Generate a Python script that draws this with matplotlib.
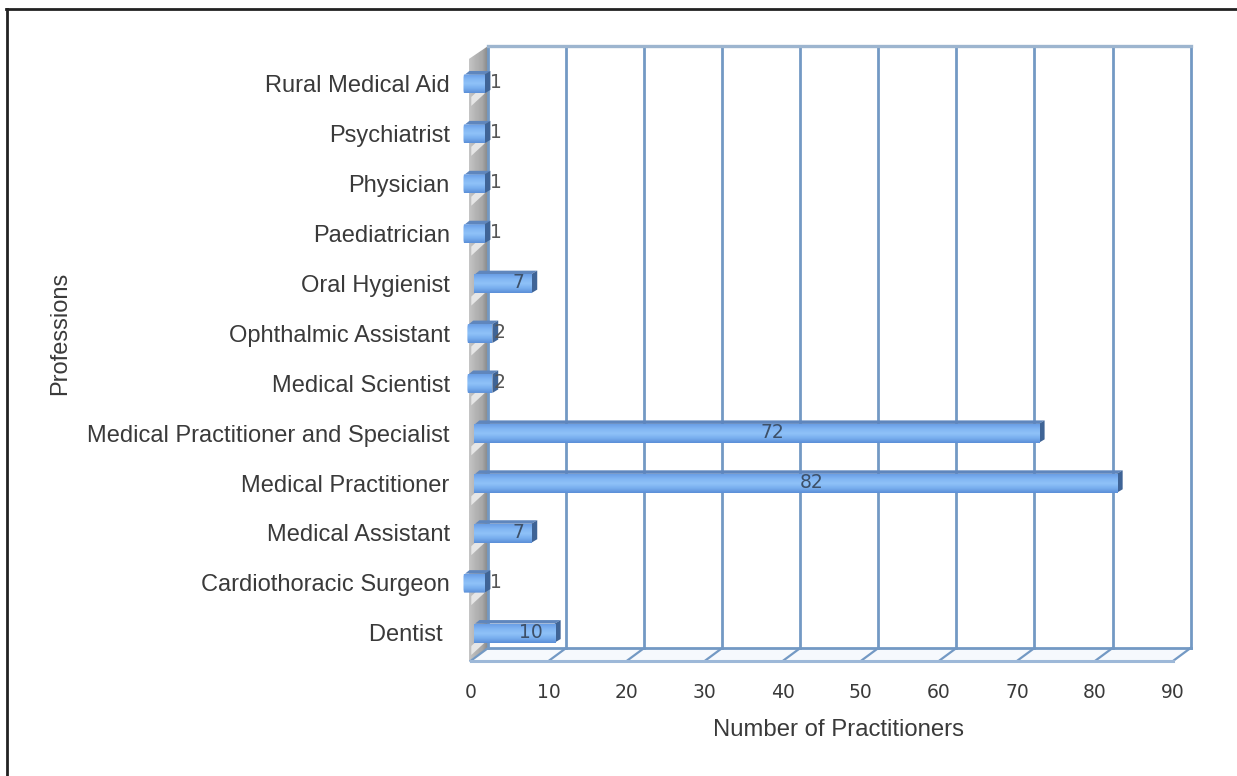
import numpy as np
import matplotlib
matplotlib.use('Agg')
import matplotlib.pyplot as plt
from matplotlib.patches import Polygon, FancyBboxPatch
from matplotlib.lines import Line2D
from matplotlib.colors import LinearSegmentedColormap
from matplotlib.transforms import ScaledTranslation

plt.rcParams['font.family'] = ['Liberation Sans', 'DejaVu Sans']

professions = ['Dentist ', 'Cardiothoracic Surgeon', 'Medical Assistant', 'Medical Practitioner',
               'Medical Practitioner and Specialist', 'Medical Scientist', 'Ophthalmic Assistant',
               'Oral Hygienist', 'Paediatrician', 'Physician', 'Psychiatrist', 'Rural Medical Aid']
counts = [10, 1, 7, 82, 72, 2, 2, 7, 1, 1, 1, 1]
xticks = [0, 10, 20, 30, 40, 50, 60, 70, 80, 90]

W, H = 1237, 776
GRID = '#7399c4'
TXT = '#3a3a3a'
DX = 2.25   # depth of the 3d box in data units
DY = 0.26

face_cm = LinearSegmentedColormap.from_list('face', ['#6a9fe6', '#82b6f3', '#8fc2f8', '#78aeee', '#5c90d8'])
wall_cm = LinearSegmentedColormap.from_list('wall', ['#c4c4c4', '#b4b4b4', '#a8a8a8', '#858585'])


def draw_bar(ax, y, v):
    # the tiny bars stick out to the left of the wall in the original
    x0 = {1: -0.9, 2: -0.4}.get(v, 0.4)
    x1 = v + 0.8
    h = 0.38
    top = y + 0.13
    bot = top - h
    cw, ch = 0.75, 0.07
    grad = np.linspace(0, 1, 32).reshape(-1, 1)
    ax.add_patch(Polygon([(x0 + 0.2, top), (x0 + cw, top + ch), (x1 + cw, top + ch), (x1, top)],
                         fc='#5f86bd', ec='none', zorder=5, clip_on=False))
    ax.add_patch(Polygon([(x1, bot), (x1 + cw, bot + ch), (x1 + cw, top + ch), (x1, top)],
                         fc='#3f6496', ec='none', zorder=5, clip_on=False))
    im = ax.imshow(grad, extent=[x0, x1, bot, top], cmap=face_cm, aspect='auto', origin='upper', zorder=5)
    im.set_clip_box(ax.figure.bbox)
    if v <= 2:
        clip = FancyBboxPatch((x0, bot), x1 - x0 + 1, h, boxstyle='round,pad=0,rounding_size=0.1',
                              mutation_aspect=1.0, transform=ax.transData, fc='none', ec='none', clip_on=False)
        ax.add_patch(clip)
        im.set_clip_path(clip)
        im.set_clip_box(ax.figure.bbox)
    col = '#555555' if v <= 2 else '#3d5068'
    ax.text(v / 2 + 2.7, y - 0.04, str(v), ha='center', va='center', fontsize=13.5, color=col, zorder=6,
            family='DejaVu Sans')


fig = plt.figure(figsize=(W / 100, H / 100), dpi=100, facecolor='white')
ax = fig.add_axes([470.5 / W, 1 - 661 / H, 702.5 / W, 602 / H])
ax.set_facecolor('none')
ax.set_xlim(0, 90)
ax.set_ylim(-0.62, 11.44)
ymin, ymax = ax.get_ylim()
for s in ax.spines.values():
    s.set_visible(False)

# left wall
ax.imshow(np.linspace(0, 1, 16).reshape(1, -1), extent=[-0.2, DX, ymin, ymax + DY], cmap=wall_cm,
          aspect='auto', zorder=1, clip_on=False)
ax.add_patch(Polygon([(-0.21, ymax), (DX, ymax + DY), (-0.21, ymax + DY + 0.1)], fc='white', ec='none',
                     zorder=1.5, clip_on=False))
ax.add_patch(Polygon([(-0.21, ymin), (DX, ymin + DY), (DX, ymin - 0.1), (-0.21, ymin - 0.1)], fc='white', ec='none',
                     zorder=1.5, clip_on=False))
for i in range(len(counts)):
    ax.add_patch(Polygon([(0.1, i - 0.5), (DX - 0.35, i - 0.24), (DX - 0.35, i - 0.06), (0.1, i - 0.32)],
                         fc='#e6e6e6', ec='none', zorder=2, clip_on=False))

# back wall grid, floor and tick marks
ax.add_patch(Polygon([(0, ymin), (DX, ymin + DY), (90 + DX, ymin + DY), (90, ymin)], fc='#f6f9fd', ec='none', zorder=2,
                     clip_on=False))
for t in xticks:
    ax.plot([t + DX, t + DX], [ymin + DY, ymax + DY], color=GRID, lw=2.0, zorder=3, clip_on=False)
    ax.plot([t, t + DX], [ymin, ymin + DY], color=GRID, lw=1.6, zorder=3, clip_on=False)
ax.plot([DX, 90 + DX], [ymax + DY, ymax + DY], color='#9db5cf', lw=2.4, zorder=3, clip_on=False)
ax.plot([DX, 90 + DX], [ymin + DY, ymin + DY], color=GRID, lw=2.0, zorder=3, clip_on=False)
ax.plot([0, 90], [ymin, ymin], color='#9db8d8', lw=2.2, zorder=3, clip_on=False)

for i, v in enumerate(counts):
    draw_bar(ax, i, v)
ax.set_xlim(0, 90)
ax.set_ylim(ymin, ymax)

ax.set_xticks(xticks)
ax.set_xticklabels([str(t) for t in xticks], fontsize=13.5, color=TXT, family='DejaVu Sans')
ax.set_yticks(range(len(professions)))
ax.set_yticklabels(professions, fontsize=17, color=TXT)
ax.tick_params(axis='both', length=0)
ax.tick_params(axis='x', pad=16)
ax.tick_params(axis='y', pad=15)
for lab in ax.get_yticklabels():
    lab.set_transform(lab.get_transform() + ScaledTranslation(0, -2 / 72, fig.dpi_scale_trans))
ax.set_xlabel('Number of Practitioners', fontsize=17.2, color=TXT)
ax.xaxis.set_label_coords(0.524, -0.097)
ax.set_ylabel('Professions', fontsize=17, color=TXT)
ax.yaxis.set_label_coords(-0.569, 0.545)

# outer frame, only top and left are inside the picture
fig.add_artist(Line2D([7 / W, 7 / W], [0, 1 - 9 / H], transform=fig.transFigure, color='#222222', lw=2.0))
fig.add_artist(Line2D([6 / W, 1], [1 - 9 / H, 1 - 9 / H], transform=fig.transFigure, color='#222222', lw=2.0))

fig.savefig('out.png', dpi=100, facecolor='white')
